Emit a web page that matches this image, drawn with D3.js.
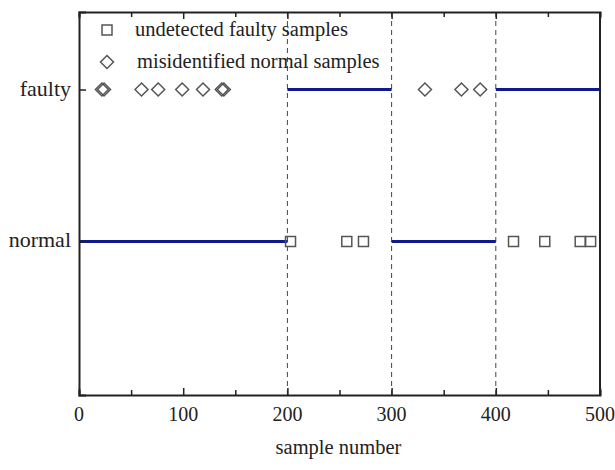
<!DOCTYPE html>
<html><head><meta charset="utf-8">
<script src="https://cdn.jsdelivr.net/npm/d3@7"></script>
<style>body{margin:0;background:#fff}svg{display:block}text{font-family:"Liberation Serif","Times New Roman",serif;fill:#222}</style>
</head><body>
<svg id="c" width="615" height="470"></svg>
<script>
const xTicks = [0,100,200,300,400,500];
const yCategories = ["normal","faulty"];
const yValues = [0,1];
const boundaries = [200,300,400];
const segStarts = [0,200,300,400];
const segEnds = [200,300,400,500];
const segClass = [0,1,0,1];
const undetectedFaulty = [203,257,273,417,447,481,491];
const misidentifiedNormal = [22,24,60,76,99,119,137,139,332,367,385];

const svg = d3.select("#c");
const m = {l:79, r:600, t:12, b:395};
const x = d3.scaleLinear().domain([0,500]).range([m.l,m.r]);
const y = d3.scaleLinear().domain([-1.01,1.51]).range([m.b,m.t]);

// dashed boundaries
svg.selectAll(".bd").data(boundaries).enter().append("line")
  .attr("x1",d=>x(d)).attr("x2",d=>x(d)).attr("y1",m.t).attr("y2",m.b)
  .attr("stroke","#444").attr("stroke-width",1).attr("stroke-dasharray","5,4");

// true class segments
svg.selectAll(".seg").data(segStarts).enter().append("line")
  .attr("x1",(d,i)=>x(d)).attr("x2",(d,i)=>x(segEnds[i]))
  .attr("y1",(d,i)=>y(segClass[i])).attr("y2",(d,i)=>y(segClass[i]))
  .attr("stroke","#111a8a").attr("stroke-width",3.2);

// markers
const sq = 10;
svg.selectAll(".sq").data(undetectedFaulty).enter().append("rect")
  .attr("x",d=>x(d)-sq/2).attr("y",y(0)-sq/2).attr("width",sq).attr("height",sq)
  .attr("fill","none").attr("stroke","#555").attr("stroke-width",1.5);
const dm = 6.5;
const diamond = (cx,cy)=>`M${cx},${cy-dm}L${cx+dm},${cy}L${cx},${cy+dm}L${cx-dm},${cy}Z`;
svg.selectAll(".dm").data(misidentifiedNormal).enter().append("path")
  .attr("d",d=>diamond(x(d),y(1)))
  .attr("fill","none").attr("stroke","#555").attr("stroke-width",1.5);

// axes
const xb = d3.axisBottom(x).tickValues(d3.range(0,501,50)).tickSize(-5).tickFormat(()=>"");
const gx = svg.append("g").attr("transform",`translate(0,${m.b})`).call(xb);
gx.selectAll(".tick line").attr("y2",d=>d%100===0?-7:-5);
const xt = d3.axisTop(x).tickValues(d3.range(0,501,50)).tickSize(-5).tickFormat(()=>"");
const gxt = svg.append("g").attr("transform",`translate(0,${m.t})`).call(xt);
gxt.selectAll(".tick line").attr("y2",d=>d%100===0?7:5);
const yl = d3.axisLeft(y).tickValues(yValues).tickSize(-7).tickFormat(()=>"");
svg.append("g").attr("transform",`translate(${m.l},0)`).call(yl);
svg.selectAll(".domain").attr("stroke","#222").attr("stroke-width",2);
svg.selectAll(".tick line").attr("stroke","#222").attr("stroke-width",1.5);
svg.append("line").attr("x1",m.r).attr("x2",m.r).attr("y1",m.t).attr("y2",m.b).attr("stroke","#222").attr("stroke-width",2);

// tick labels
svg.selectAll(".xl").data(xTicks).enter().append("text")
  .attr("x",d=>x(d)).attr("y",421).attr("text-anchor","middle").attr("font-size",20).text(d=>d);
svg.selectAll(".yl").data(yValues).enter().append("text")
  .attr("x",71).attr("y",d=>y(d)+6).attr("text-anchor","end").attr("font-size",22).text((d,i)=>yCategories[i]);
svg.append("text").attr("x",(m.l+m.r)/2-1).attr("y",454).attr("text-anchor","middle").attr("font-size",20.5).text("sample number");

// legend
svg.append("rect").attr("x",107-sq/2).attr("y",30-sq/2).attr("width",sq).attr("height",sq)
  .attr("fill","none").attr("stroke","#555").attr("stroke-width",1.5);
svg.append("text").attr("x",135).attr("y",36).attr("font-size",20.5).text("undetected faulty samples");
svg.append("path").attr("d",diamond(107,62)).attr("fill","none").attr("stroke","#555").attr("stroke-width",1.5);
svg.append("text").attr("x",137).attr("y",68).attr("font-size",20.5).text("misidentified normal samples");
</script>
</body></html>
